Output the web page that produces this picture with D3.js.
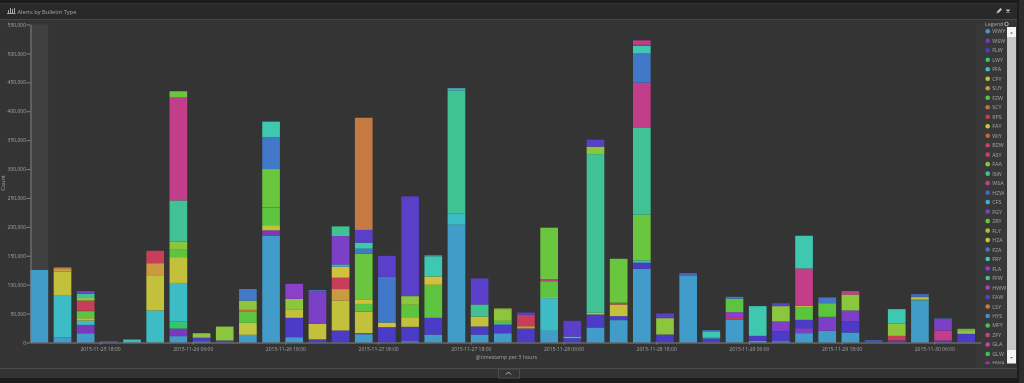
<!DOCTYPE html>
<html>
<head>
<meta charset="utf-8">
<script src="https://cdnjs.cloudflare.com/ajax/libs/d3/7.8.5/d3.min.js"></script>
<style>
    html, body { margin: 0; padding: 0; background: #1c1c1c; overflow: hidden; }
    svg { display: block; filter: blur(0.35px); }
    text { font-family: "Open Sans", "Liberation Sans", sans-serif; fill: #a4a4a4; }
    .domain { stroke: #808080; }
    .tick line { stroke: #808080; }
</style>
</head>
<body>
<script>
// legend order, top to bottom
const legendCodes = [ 'WWY', 'WSW', 'FLW', 'LWY', 'FFA', 'CFY', 'SUY', 'FZW', 'SCY', 'RPS', 'FAY', 'WIY',
    'BZW', 'ASY', 'FAA', 'ISW', 'WSA', 'HZW', 'CFS', 'FGY', 'ZRY', 'FLY', 'HZA', 'FZA', 'FRY', 'FLA',
    'FFW', 'HWW', 'FAW', 'LSY', 'HYS', 'MFY', 'ZFY', 'GLA', 'GLW', 'HWA' ];
const legendColors = [ '#429cc9', '#7a38bf', '#4b3bc6', '#36c46e', '#3dbcc6', '#c3c13c', '#c99a3f', '#5cc43e',
    '#c4703e', '#c83d58', '#d0c23d', '#c7683e', '#c83d72', '#c33f7c', '#8bc63e', '#41c294', '#c23d8a', '#4268c4',
    '#3fb0c8', '#7b3fc8', '#6bc63f', '#9bc840', '#bfc840', '#4278c8', '#3fc8b0', '#8c3fc8', '#41c294', '#b03fc0',
    '#5a3fc8', '#c47a42', '#4090c8', '#50c040', '#c83f90', '#c83fa8', '#40c050', '#a030b0' ];

const firstBucket = '2015-11-25T09:00Z';
const tickLabels = [ '2015-11-25 18:00', '2015-11-26 06:00', '2015-11-26 18:00', '2015-11-27 06:00', '2015-11-27 18:00',
    '2015-11-28 06:00', '2015-11-28 18:00', '2015-11-29 06:00', '2015-11-29 18:00', '2015-11-30 06:00' ];
const countTicks = [ 0, 50000, 100000, 150000, 200000, 250000, 300000, 350000, 400000, 450000, 500000, 550000 ];

// one list per 3 hour bucket, bottom segment first
const buckets = [
    [['WWY',125500]],
    [['WWY',9000],['FFA',72000],['CFY',42000],['SUY',5500],['SCY',1500]],
    [['WWY',16000],['WSW',14500],['FFA',7500],['CFY',4000],['FZW',12000],['SUY',1000],['RPS',17500],['FAA',4500],['ISW',7500],['FGY',4500]],
    [['FLW',800],['WSW',1500]],
    [['FFA',5200]],
    [['FFA',55400],['CFY',61000],['SUY',20800],['RPS',21400]],
    [['WWY',11000],['WSW',13000],['LWY',12000],['FFA',67000],['CFY',44700],['FZW',12700],['FAA',14400],['ISW',71000],['WSA',178000],['ZRY',10800]],
    [['WWY',2000],['FLW',6000],['FFA',500],['FAA',7500]],
    [['FLW',3500],['FAA',24000]],
    [['WWY',13300],['HZA',20700],['FZW',20000],['SCY',2500],['FAA',16000],['FZA',20000]],
    [['WWY',185000],['WSW',9000],['CFY',9000],['FZW',30000],['SCY',500],['ZRY',66500],['FZA',55000],['FRY',27000]],
    [['WWY',9200],['FLW',33500],['CFY',13800],['FAA',19000],['FLA',26000]],
    [['FLW',5200],['SUY',500],['CFY',26600],['FGY',56000],['FZA',2300]],
    [['FLW',20800],['CFY',52000],['SUY',19600],['RPS',19700],['FAY',19000],['CFS',4000],['FGY',49000],['FFW',16700]],
    [['WWY',14400],['WSW',2000],['CFY',37000],['FZW',13300],['FAY',8000],['ZRY',79000],['FZA',8600],['FRY',10400],['FAW',22000],['LSY',194000]],
    [['FLW',26500],['FAY',8000],['FZA',79000],['FAW',36300]],
    [['WWY',2300],['FLW',24800],['CFY',16700],['FZW',21400],['FAA',15000],['FAW',172500]],
    [['WWY',13800],['FLW',28900],['FZW',57100],['FAY',14400],['FRY',35000],['HYS',1700]],
    [['WWY',203700],['FFA',19100],['ISW',213000],['CFS',4000]],
    [['WWY',13800],['FLW',13900],['CFY',17300],['ISW',20800],['FAW',45000]],
    [['WWY',16000],['FLW',15000],['FFA',3000],['FZW',3500],['FAA',19000],['FLY',2300]],
    [['FLW',24200],['SUY',4000],['RPS',19600],['FAW',4000]],
    [['WWY',20200],['FFA',56500],['CFY',1800],['FZW',27500],['ASY',3600],['ZRY',89000]],
    [['FLW',7500],['FFA',2800],['FAW',27200]],
    [['WWY',26000],['FLW',22500],['CFY',2900],['ISW',274400],['FAA',13000],['FAW',12000]],
    [['WWY',38700],['FLW',6900],['CFY',20200],['RPS',3000],['ZRY',76000]],
    [['WWY',127500],['FLW',10500],['FFA',4000],['ZRY',79000],['FFW',151000],['WSA',77500],['FZA',50500],['FRY',13300],['FGY',1500],['WSA',7700]],
    [['FLW',13800],['FAA',28300],['FGY',1500],['FAW',6600]],
    [['WWY',116000],['HZW',4000]],
    [['FLW',6900],['CFS',2300],['FRY',9300],['FLY',800],['FZA',2000]],
    [['WWY',39200],['RPS',4600],['FLA',8700],['FZW',23100],['FZA',3400]],
    [['WWY',2900],['FLW',8600],['FRY',51400]],
    [['WWY',2300],['FLW',17300],['FGY',16800],['FAA',26500],['FAW',5100]],
    [['WWY',16200],['FGY',8600],['FLW',14400],['FZW',22000],['CFY',2300],['WSA',64500],['FRY',56600]],
    [['WWY',20200],['FGY',24200],['FZW',23600],['FZA',9900]],
    [['WWY',17300],['FLW',19600],['FGY',18500],['FAA',27700],['WSA',5800]],
    [['FLW',1500],['HZW',2500]],
    [['FLW',3500],['RPS',8000],['FAA',21400],['FRY',24800]],
    [['WWY',72700],['ISW',1500],['CFY',3000],['FLY',2000],['HZW',4500]],
    [['FLW',3500],['WSA',17300],['FGY',18400],['HZW',2300]],
    [['FLW',15000],['FAA',6300],['FZW',2400]]
];

const pageWidth = 1024;
const pageHeight = 383;

const svg = d3.select('body').append('svg')
    .attr('width', pageWidth)
    .attr('height', pageHeight);

// ------------------------------------------------
// PANEL
// ------------------------------------------------
svg.append('rect').attr('x', 0).attr('y', 3).attr('width', 1017).attr('height', 375).attr('fill', '#343434');
svg.append('rect').attr('x', 0).attr('y', 4).attr('width', 1017).attr('height', 15).attr('fill', '#292929');
svg.append('line').attr('x1', 0).attr('x2', 1017).attr('y1', 19.5).attr('y2', 19.5).attr('stroke', '#474747');
svg.append('line').attr('x1', 0).attr('x2', 1017).attr('y1', 368.5).attr('y2', 368.5).attr('stroke', '#4c4c4c');
svg.append('rect').attr('x', 1017).attr('y', 0).attr('width', 7).attr('height', 383).attr('fill', '#2c2c2c');
svg.append('rect').attr('x', 1017).attr('y', 0).attr('width', 2).attr('height', 383).attr('fill', '#1c1c1c');

// title and icons
const chartIcon = svg.append('g').attr('fill', '#a8a8a8');
[ [8, 10, 1, 3], [10, 8, 1, 5], [12, 9, 1, 4], [14, 8, 1, 5], [7, 13, 8.5, 1] ].forEach(function (r) {
    chartIcon.append('rect').attr('x', r[0]).attr('y', r[1]).attr('width', r[2]).attr('height', r[3]);
});
svg.append('text').attr('x', 17.5).attr('y', 13.5).attr('font-size', 5.7).text('Alerts by Bulletin Type');
svg.append('path').attr('d', 'M996.5 13.5 l1 -2.5 l3 -3 l1.5 1.5 l-3 3 z').attr('fill', '#c8c8c8');
svg.append('path').attr('d', 'M1006.5 9.5 l3 3 M1009.5 9.5 l-3 3').attr('stroke', '#c8c8c8').attr('stroke-width', 1.2);

// ------------------------------------------------
// SCALES
// ------------------------------------------------
const threeHours = 3 * 3600 * 1000;
const bucketStart = new Date(firstBucket);
const bucketTimes = buckets.map(function (d, i) { return new Date(+bucketStart + i * threeHours); });

const xScale = d3.scaleUtc()
    .domain([ bucketStart, new Date(+bucketStart + buckets.length * threeHours) ])
    .range([ 30.5, 980.6 ]);
const yScale = d3.scaleLinear()
    .domain([ 0, 550000 ])
    .range([ 342.5, 24.5 ]);
const colors = d3.scaleOrdinal().domain(legendCodes).range(legendColors);
const parseTick = d3.utcParse('%Y-%m-%d %H:%M');
const barWidth = xScale(new Date(+bucketStart + threeHours)) - xScale(bucketStart) - 5.5;

// hover band behind first bar
svg.append('rect')
    .attr('x', xScale(bucketTimes[0])).attr('y', yScale(550000))
    .attr('width', barWidth).attr('height', yScale(0) - yScale(550000))
    .attr('fill', '#404040');

// legend column
svg.append('rect').attr('x', 976.5).attr('y', 24).attr('width', 30).attr('height', 344).attr('fill', '#383838');

// ------------------------------------------------
// BARS
// ------------------------------------------------
const barRows = svg.append('g').selectAll('g')
    .data(buckets)
    .enter()
    .append('g')
    .attr('transform', function (d, i) { return 'translate(' + xScale(bucketTimes[i]) + ',0)'; });

barRows.selectAll('rect')
    .data(function (d) {
        const tops = d3.cumsum(d, function (s) { return s[1]; });
        return d.map(function (s, i) { return { code: s[0], y0: tops[i] - s[1], y1: tops[i] }; });
    })
    .enter()
    .append('rect')
    .attr('x', 0)
    .attr('width', barWidth)
    .attr('y', function (d) { return yScale(d.y1); })
    .attr('height', function (d) { return yScale(d.y0) - yScale(d.y1); })
    .attr('fill', function (d) { return colors(d.code); });

// ------------------------------------------------
// AXES
// ------------------------------------------------
const xAxis = svg.append('g')
    .attr('transform', 'translate(0,342.5)')
    .call(d3.axisBottom(xScale)
        .tickValues(tickLabels.map(parseTick))
        .tickFormat(d3.utcFormat('%Y-%m-%d %H:%M'))
        .tickSize(2)
        .tickSizeOuter(0));
xAxis.selectAll('text').attr('font-size', 5).attr('y', 4.5).attr('dy', '0.71em');

const yAxis = svg.append('g')
    .attr('transform', 'translate(30.5,0)')
    .call(d3.axisLeft(yScale)
        .tickValues(countTicks)
        .tickFormat(d3.format(','))
        .tickSize(4)
        .tickSizeOuter(0));
yAxis.selectAll('text').attr('font-size', 5).attr('x', -4.5);

svg.append('text')
    .attr('transform', 'translate(4.5,183) rotate(-90)')
    .attr('text-anchor', 'middle')
    .attr('font-size', 5.5)
    .text('Count');
svg.append('text')
    .attr('x', 506.5).attr('y', 358.5)
    .attr('text-anchor', 'middle')
    .attr('font-size', 5.3)
    .text('@timestamp per 3 hours');

// ------------------------------------------------
// LEGEND
// ------------------------------------------------
svg.append('text').attr('x', 985).attr('y', 26).attr('font-size', 5.4).text('Legend');
svg.append('circle').attr('cx', 1006.5).attr('cy', 24).attr('r', 1.8)
    .attr('fill', 'none').attr('stroke', '#c0c0c0').attr('stroke-width', 0.8);

svg.append('clipPath').attr('id', 'legend-clip')
    .append('rect').attr('x', 976).attr('y', 27).attr('width', 31).attr('height', 337);

const legendScale = d3.scalePoint()
    .domain(legendCodes)
    .range([ 31.3, 31.3 + 9.49 * (legendCodes.length - 1) ]);

const legendRows = svg.append('g')
    .attr('clip-path', 'url(#legend-clip)')
    .selectAll('g')
    .data(legendCodes)
    .enter()
    .append('g')
    .attr('transform', function (d) { return 'translate(987.7,' + legendScale(d) + ')'; });
legendRows.append('circle').attr('r', 2.3).attr('fill', function (d) { return colors(d); });
legendRows.append('text').attr('x', 4.5).attr('y', 2).attr('font-size', 5.4).text(function (d) { return d; });

// scrollbar
svg.append('rect').attr('x', 1007).attr('y', 27).attr('width', 9).attr('height', 336).attr('fill', '#c6c6c6');
svg.append('rect').attr('x', 1007).attr('y', 27).attr('width', 9).attr('height', 10).attr('fill', '#f4f4f4');
svg.append('rect').attr('x', 1007).attr('y', 350).attr('width', 9).attr('height', 13.5).attr('fill', '#f4f4f4');
svg.append('path').attr('d', 'M1010 33.5 h3 l-1.5 -1.8 z M1010 357 h3 l-1.5 1.8 z').attr('fill', '#777');

// ------------------------------------------------
// BOTTOM TAB
// ------------------------------------------------
svg.append('rect').attr('x', 498.5).attr('y', 369).attr('width', 21).attr('height', 9)
    .attr('fill', '#343434').attr('stroke', '#4c4c4c');
svg.append('path').attr('d', 'M506 374.5 l2.5 -2.5 l2.5 2.5').attr('fill', 'none').attr('stroke', '#c0c0c0').attr('stroke-width', 1);
</script>
</body>
</html>
